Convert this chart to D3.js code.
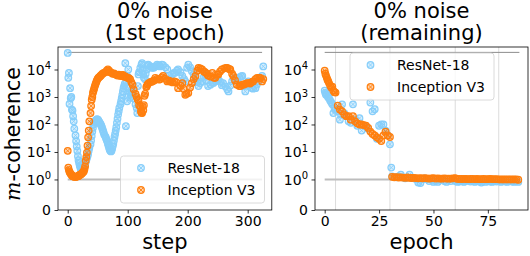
<!DOCTYPE html>
<html>
<head>
<script src="https://cdn.jsdelivr.net/npm/d3@7"></script>
<style>
  body { margin: 0; background: #fff; }
  text { font-family: "DejaVu Sans", sans-serif; fill: #000; }
</style>
</head>
<body>
<script>

// m-coherence during the first epoch, per step
var resnetStep = [[0,40000],[1,5000],[2,7500],[3,560],[4,2100],[5,900],[6,1000],[7,350],[8,320],[9,200],
  [10,130],[11,70],[13,40],[14,25],[15,16],[16,11],[17,7],[18,5],[19,4],[20,3.2],[21,2.7],[22,2.4],[23,2.2],
  [24,2.0],[25,2.0],[26,2.1],[27,2.4],[28,3],[29,3.5],[30,4.2],[31,5],[32,6],[33,7],[34,8.5],[35,11],[36,14],
  [38,19],[39,26],[40,38],[41,55],[42,75],[43,100],[44,115],[45,125],[46,135],[47,140],[48,150],[49,155],
  [50,150],[51,145],[52,130],[53,120],[54,110],[55,100],[56,90],[57,80],[58,68],[59,58],[60,50],[61,42],
  [63,36],[64,31],[65,27],[66,24],[67,20],[68,17],[69,14],[70,12],[71,11],[72,10.5],[73,11],[74,13],[75,16],
  [76,20],[77,26],[78,35],[79,45],[80,60],[81,80],[82,115],[83,160],[84,230],[85,300],[86,400],[88,550],
  [89,700],[90,900],[91,1200],[92,1600],[93,2100],[94,2500],[95,3000],[96,17000],[97,87],[98,3500],[99,700],
  [100,5500],[101,10000],[102,2100],[103,1500],[104,930],[105,1200],[106,1400],[107,1600],[108,1300],[110,900],
  [113,540],[115,400],[116,260],[117,2500],[118,6600],[119,8000],[121,11500],[123,15000],[124,17000],
  [125,9000],[126,6600],[127,5000],[129,4400],[130,7000],[132,10000],[134,15000],[135,14000],[138,13000],
  [140,12000],[141,11500],[143,11500],[145,12500],[146,13000],[149,15000],[152,14000],[154,13000],
  [157,15000],[159,14500],[163,12000],[166,10000],[169,6000],[171,4400],[174,6600],[177,7500],[179,7600],
  [182,9000],[184,10000],[188,8000],[191,5800],[194,4500],[196,3700],[199,11500],[201,15000],[204,12000],
  [207,8700],[210,6500],[213,5000],[216,3500],[218,2500],[221,3200],[224,3700],[227,5500],[229,6600],
  [232,4000],[234,2500],[238,2800],[241,3400],[243,3200],[246,3800],[249,4200],[251,4400],[254,3600],
  [257,2700],[259,3200],[263,2400],[266,1900],[268,1600],[271,2600],[274,3700],[277,4600],[279,5000],
  [282,4500],[286,5200],[289,5600],[291,5800],[294,2500],[296,1600],[299,2600],[301,3700],[304,2800],
  [307,2100],[309,2000],[313,2100],[315,2800],[318,3700],[321,4800],[324,5800],[326,13000]];

var inceptionStep = [[0,11],[1,2.7],[2,2.2],[3,1.9],[4,1.7],[5,1.6],[6,1.5],[7,1.4],[8,1.35],[9,1.3],
  [10,1.28],[11,1.25],[13,1.25],[14,1.25],[15,1.27],[16,1.3],[17,1.32],[18,1.35],[19,1.4],[20,1.45],
  [21,1.5],[22,1.55],[23,1.6],[24,1.7],[25,1.8],[26,1.9],[27,2.0],[28,2.4],[29,3],[30,4.8],[31,6.5],
  [32,9.5],[33,17],[34,34],[35,60],[36,130],[38,260],[39,470],[40,800],[41,1000],[42,1400],[43,1700],
  [44,2000],[45,2400],[46,2800],[47,3200],[48,3700],[49,4200],[50,4600],[51,5000],[52,5200],[53,5400],
  [54,5700],[55,6000],[56,6300],[58,7000],[60,7500],[63,8000],[65,9000],[67,10000],[69,9000],[71,8000],
  [73,7600],[75,7000],[77,7200],[79,6800],[81,6400],[83,6000],[85,6500],[88,5800],[90,6200],[92,6400],
  [94,5500],[96,5600],[98,5200],[100,5000],[102,4800],[104,4500],[106,3500],[108,2800],[110,1900],
  [113,1300],[115,1000],[117,800],[118,750],[119,500],[121,450],[122,300],[123,270],[124,260],[125,450],
  [126,330],[127,500],[128,1100],[129,1300],[131,2300],[132,2500],[133,2900],[135,3200],[138,3500],
  [140,3600],[142,3800],[144,4000],[146,5000],[149,4600],[152,4300],[154,4400],[157,5200],[159,5800],
  [163,4600],[166,3700],[169,3900],[172,3600],[175,3400],[178,3700],[181,3500],[184,2100],[188,2600],
  [191,3200],[193,2000],[196,1200],[198,1300],[201,1400],[204,2200],[207,3200],[210,4500],[213,5800],
  [216,9000],[218,11500],[221,11000],[224,10000],[227,8500],[229,8000],[232,7000],[234,6000],[238,5500],
  [241,7500],[244,5000],[246,5000],[249,6600],[251,6600],[254,8500],[257,10000],[261,11000],[264,11500],
  [266,11500],[269,10500],[271,10000],[274,7000],[276,5800],[279,4000],[282,2800],[286,2500],[288,2500],
  [291,2800],[293,2800],[296,3000],[299,3200],[302,3200],[304,3100],[307,3500],[309,3700],[313,4500],
  [316,5000],[319,5000],[321,5000],[324,3700],[326,4500]];

// m-coherence over the remaining epochs
var resnetEpoch = [[0,1700],[0.3,1400],[0.6,1200],[1,1300],[1.5,1000],[2,900],[2.5,750],[3,650],[3.5,550],
  [4,260],[4.5,400],[5,350],[6,300],[7,150],[7.5,230],[8,540],[9,260],[10,200],[11,130],[12,115],[13,540],
  [14,150],[15,90],[16,170],[17,60],[18,90],[19,85],[20,70],[21,630],[22,300],[23,360],[24,30],[25,90],
  [26,100],[27,100],[28,60],[29,40],[30,19],[30.6,2.7],[31,1.3],[32,1.25],[33,1.2],[34,1.3],[35,1.5],
  [36,1.2],[37,1.1],[38,1.2],[39,1.5],[40,1.15],[41,1.1],[42,1.05],[43,0.9],[44,0.88],[45,1.0],[46,1.1],
  [47,1.05],[48,0.95],[49,1.0],[50,0.92],[51,0.95],[52,0.92],[53,1.0],[54,1.05],[55,0.95],[56,0.92],
  [57,1.0],[58,0.95],[59,1.05],[60,0.95],[61,0.92],[62,0.93],[63,0.95],[64,0.92],[65,0.95],[66,0.97],
  [67,0.93],[68,0.95],[69,0.92],[70,0.95],[71,0.93],[72,0.9],[73,0.95],[74,0.92],[75,0.95],[76,0.93],
  [77,0.92],[78,0.95],[79,0.93],[80,0.95],[81,0.92],[82,0.95],[83,0.93],[84,0.92],[85,0.95],[86,0.93],
  [87,0.92],[88,0.94],[89,0.92]];

var inceptionEpoch = [[0,9000],[0.3,7000],[0.6,6000],[1,5000],[1.3,4200],[1.6,3800],[2,3200],[2.5,2600],
  [3,2200],[3.5,2400],[4,1700],[4.5,1500],[5,1450],[6,480],[7,350],[8,300],[9,230],[10,200],[11,200],
  [12,150],[13,200],[14,130],[15,110],[16,100],[17,100],[18,95],[19,90],[20,75],[21,55],[22,45],[23,40],
  [24,34],[25,30],[26,25],[27,40],[28,55],[29,40],[30,35],[31,1.25],[32,1.2],[33,1.22],[34,1.18],[35,1.2],
  [36,1.17],[37,1.15],[38,1.18],[39,1.15],[40,1.13],[41,1.15],[42,1.12],[43,1.1],[44,1.12],[45,1.1],
  [46,1.12],[47,1.1],[48,1.08],[49,1.1],[50,1.12],[51,1.08],[52,1.1],[53,1.08],[54,1.07],[55,1.1],
  [56,1.08],[57,1.07],[58,1.08],[59,1.1],[60,1.12],[61,1.05],[62,1.05],[63,1.04],[64,1.05],[65,1.04],
  [66,1.03],[67,1.04],[68,1.05],[69,1.03],[70,1.04],[71,1.02],[72,1.03],[73,1.04],[74,1.02],[75,1.03],
  [76,1.05],[77,1.03],[78,1.02],[79,1.03],[80,1.01],[81,1.0],[82,1.01],[83,1.0],[84,1.01],[85,1.0],
  [86,1.0],[87,1.01],[88,1.0],[89,0.99]];

var series = ["ResNet-18", "Inception V3"];
var colors = ["#87cefa", "#ff7f0e"];
var yTicks = [0, 1, 10, 100, 1000, 10000];
var stepTicks = [0, 100, 200, 300];
var epochTicks = [0, 25, 50, 75];
var lrEpochs = [5, 30, 60, 80];
var refLines = [1, 42000];

var width = 530, height = 256;

var svg = d3.select("body").append("svg")
  .attr("width", width)
  .attr("height", height);

// matplotlib-style symlog (linthresh 1, linscale 1)
function symlog(v) {
  return v <= 1 ? v / 0.9 : 1 / 0.9 + Math.log10(v);
}
var yT = d3.scaleLinear().domain([0, 5.93]).range([210, 47]);
function y(v) { return yT(symlog(v)); }

var panels = [
  { x: d3.scaleLinear().domain([-16.2, 340.2]).range([58, 271.8]),
    data: [resnetStep, inceptionStep], ticks: stepTicks, title: ["0% noise", "(1st epoch)"],
    xlabel: "step", maxX: 324, vlines: [], legend: [120.5, 156] },
  { x: d3.scaleLinear().domain([-4.45, 93.45]).range([315, 528]),
    data: [resnetEpoch, inceptionEpoch], ticks: epochTicks, title: ["0% noise", "(remaining)"],
    xlabel: "epoch", maxX: 89.5, vlines: lrEpochs, legend: [350, 53] }
];

function marker(g, cx, cy, c) {
  var m = g.append("g").attr("transform", "translate(" + cx + "," + cy + ")");
  m.append("circle").attr("r", 3.3)
    .attr("fill", c).attr("fill-opacity", 0.35)
    .attr("stroke", c).attr("stroke-width", 1.2);
  m.append("path").attr("d", "M-2,-2L2,2M-2,2L2,-2")
    .attr("stroke", c).attr("stroke-width", 0.9);
}

panels.forEach(function(p) {
  var x = p.x;
  var x0 = x.range()[0], x1 = x.range()[1];
  var g = svg.append("g");

  g.selectAll(".vl").data(p.vlines).enter().append("line")
    .attr("x1", function(d) { return x(d); }).attr("x2", function(d) { return x(d); })
    .attr("y1", 47).attr("y2", 210)
    .attr("stroke", "#dcdcdc").attr("stroke-width", 1);

  g.append("line")
    .attr("x1", x(0)).attr("x2", x(p.maxX))
    .attr("y1", y(refLines[0])).attr("y2", y(refLines[0]))
    .attr("stroke", "#bdbdbd").attr("stroke-width", 2);
  g.append("line")
    .attr("x1", x(0)).attr("x2", x(p.maxX))
    .attr("y1", y(refLines[1])).attr("y2", y(refLines[1]))
    .attr("stroke", "#8c8c8c").attr("stroke-width", 1);

  p.data.forEach(function(arr, i) {
    var pts = g.append("g");
    arr.forEach(function(d) { marker(pts, x(d[0]), y(d[1]), colors[i]); });
  });

  // axes
  g.append("g").attr("transform", "translate(0,210)")
    .call(d3.axisBottom(x).tickValues(p.ticks).tickSize(3.5).tickPadding(3))
    .call(function(a) {
      a.select(".domain").remove();
      a.selectAll("line").attr("stroke", "#000").attr("stroke-width", 0.8);
      a.selectAll("text").attr("font-size", 14).attr("font-family", "DejaVu Sans");
    });

  var ya = g.append("g").attr("transform", "translate(" + x0 + ",0)")
    .call(d3.axisLeft(yT).tickValues(yTicks.map(symlog)).tickSize(3.5).tickFormat(function() { return ""; }));
  ya.select(".domain").remove();
  ya.selectAll("line").attr("stroke", "#000").attr("stroke-width", 0.8);
  ya.selectAll(".tick").each(function(d, i) {
    var t = d3.select(this).append("text")
      .attr("x", -7).attr("dy", "0.35em")
      .attr("text-anchor", "end").attr("font-size", 14).attr("fill", "#000");
    var v = yTicks[i];
    if (v === 0) { t.text("0"); }
    else {
      t.append("tspan").text("10");
      t.append("tspan").attr("dy", "-0.55em").attr("font-size", 10).text(Math.round(Math.log10(v)));
    }
  });

  g.append("rect")
    .attr("x", x0).attr("y", 47).attr("width", x1 - x0).attr("height", 163)
    .attr("fill", "none").attr("stroke", "#000").attr("stroke-width", 0.8);

  // legend
  var lg = g.append("g").attr("transform", "translate(" + p.legend[0] + "," + p.legend[1] + ")");
  lg.append("rect").attr("width", 144).attr("height", 47).attr("rx", 3)
    .attr("fill", "#fff").attr("fill-opacity", 0.8)
    .attr("stroke", "#d0d0d0").attr("stroke-width", 0.8);
  series.forEach(function(s, i) {
    marker(lg, 20.5, 12 + i * 22, colors[i]);
    lg.append("text").attr("x", 47).attr("y", 12 + i * 22).attr("dy", "0.35em")
      .attr("font-size", 14).text(s);
  });

  var cx = (x0 + x1) / 2;
  g.append("text").attr("x", cx).attr("y", 18).attr("text-anchor", "middle")
    .attr("font-size", 21).text(p.title[0]);
  g.append("text").attr("x", cx).attr("y", 40).attr("text-anchor", "middle")
    .attr("font-size", 21).text(p.title[1]);
  g.append("text").attr("x", cx).attr("y", 249).attr("text-anchor", "middle")
    .attr("font-size", 21).text(p.xlabel);
});

var yl = svg.append("text")
  .attr("transform", "translate(20,134) rotate(-90)")
  .attr("text-anchor", "middle").attr("font-size", 20.5);
yl.append("tspan").attr("font-family", "DejaVu Serif").attr("font-style", "italic").text("m");
yl.append("tspan").text("-coherence");

</script>
</body>
</html>
